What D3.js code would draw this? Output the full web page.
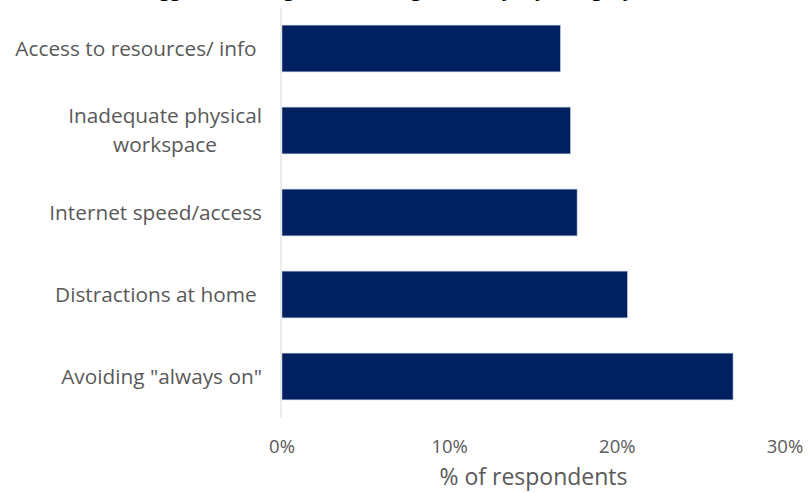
<!DOCTYPE html>
<html>
<head>
<meta charset="utf-8">
<script src="https://cdn.jsdelivr.net/npm/d3@7"></script>
<style>
  body { margin: 0; background: #fff; }
  text { font-family: "Open Sans", "Noto Sans", sans-serif; white-space: pre; }
</style>
</head>
<body>
<div id="chart"></div>
<script>
const categories = [
    ["Access to resources/ info "],
    ["Inadequate physical", "workspace"],
    ["Internet speed/access"],
    ["Distractions at home "],
    ["Avoiding \"always on\""]
];
const values = [16.6, 17.2, 17.6, 20.6, 26.9];
const ticks = [0, 10, 20, 30];
const title = "Biggest challenges of working remotely, by category (%)";

const width = 809, height = 493;
const margin = { top: 7.5, right: 24, bottom: 75, left: 282 };

const svg = d3.select("#chart")
    .append("svg")
    .attr("width", width)
    .attr("height", height);

// title is cut off at the top edge in the reference
svg.append("text")
    .attr("x", width / 2)
    .attr("y", -4.5)
    .attr("text-anchor", "middle")
    .attr("font-size", "19px")
    .attr("font-weight", "bold")
    .attr("fill", "#000")
    .text(title);

const x = d3.scaleLinear()
    .domain([0, 30])
    .range([margin.left, width - margin.right]);

const y = d3.scaleBand()
    .domain(d3.range(categories.length))
    .range([margin.top, height - margin.bottom - 0.5])
    .paddingInner(0.43)
    .paddingOuter(0.215);

// Bars
svg.append("g")
    .selectAll("rect")
    .data(values)
    .enter()
    .append("rect")
    .attr("x", x(0))
    .attr("y", (d, i) => y(i))
    .attr("width", d => x(d) - x(0))
    .attr("height", y.bandwidth())
    .attr("fill", "#002060")
    .attr("stroke", "#b4c0d8")
    .attr("stroke-width", 0.6);

// Vertical axis line
svg.append("line")
    .attr("x1", x(0) - 1)
    .attr("x2", x(0) - 1)
    .attr("y1", margin.top)
    .attr("y2", height - margin.bottom)
    .attr("stroke", "#d9d9d9")
    .attr("stroke-width", 1);

// Category labels
const labelRight = 262;
const labels = svg.append("g")
    .selectAll("text")
    .data(categories)
    .enter()
    .append("text")
    .attr("font-size", "20.8px")
    .attr("fill", "#595959");

labels.each(function (lines, i) {
    const t = d3.select(this);
    const cy = y(i) + y.bandwidth() / 2;
    const lh = 29;
    lines.forEach((line, j) => {
        t.append("tspan")
            .attr("y", cy + (j - (lines.length - 1) / 2) * lh)
            .attr("dy", "0.35em")
            .text(line);
    });
    if (lines.length === 1) {
        t.attr("text-anchor", "end").selectAll("tspan").attr("x", labelRight);
    } else {
        const w = d3.max(t.selectAll("tspan").nodes(), n => n.getComputedTextLength());
        t.attr("text-anchor", "middle").selectAll("tspan").attr("x", labelRight - w / 2);
    }
});

// x axis tick labels
svg.append("g")
    .selectAll("text")
    .data(ticks)
    .enter()
    .append("text")
    .attr("x", d => x(d))
    .attr("y", 447)
    .attr("dy", "0.35em")
    .attr("text-anchor", "middle")
    .attr("font-size", "18.5px")
    .attr("fill", "#595959")
    .text(d => d + "%");

// x axis title
svg.append("text")
    .attr("x", (x(0) + x(30)) / 2)
    .attr("y", 477)
    .attr("dy", "0.35em")
    .attr("text-anchor", "middle")
    .attr("font-size", "23px")
    .attr("fill", "#595959")
    .text("% of respondents");
</script>
</body>
</html>
